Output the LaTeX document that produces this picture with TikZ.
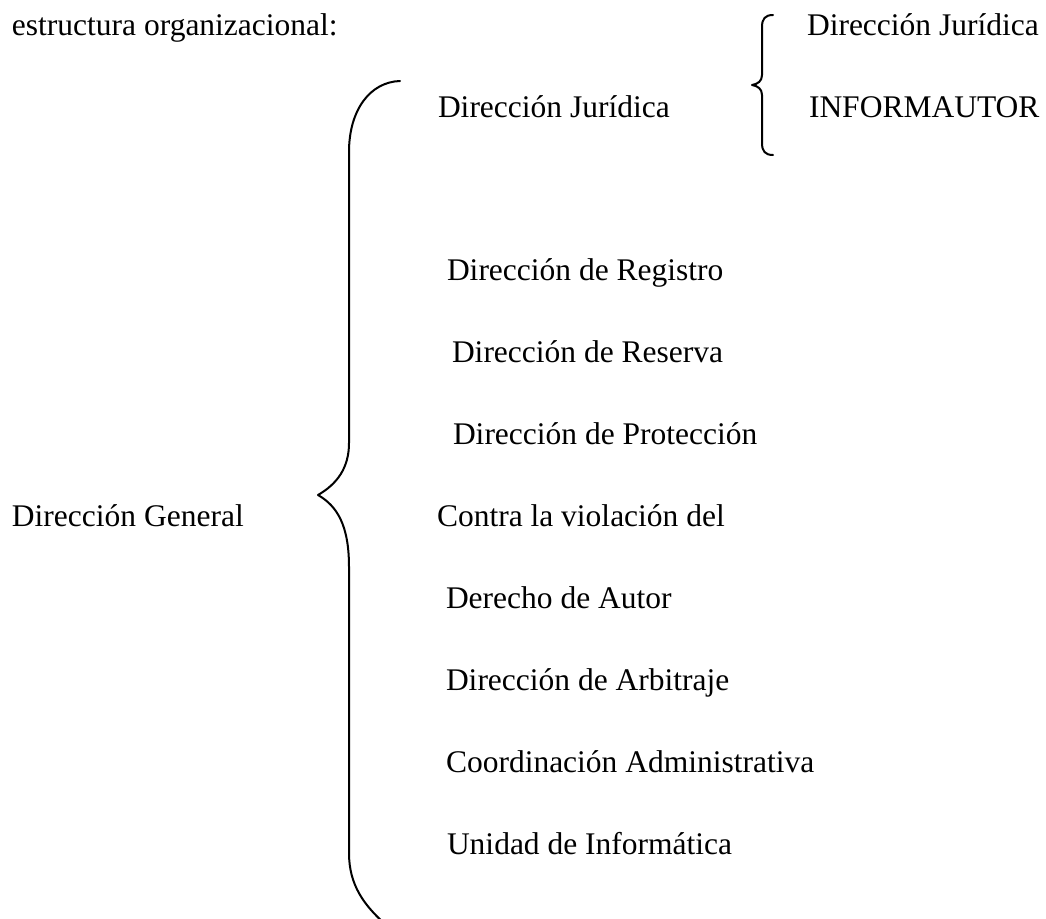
\documentclass[tikz,border=0pt]{standalone}
\usepackage{fontspec}
\setmainfont{Liberation Serif}
\begin{document}
\begin{tikzpicture}[x=1pt,y=-1pt,
  lbl/.style={anchor=base west,inner sep=0pt,outer sep=0pt,font=\fontsize{31.5}{36}\selectfont},
  brace/.style={line width=2pt,line cap=round,line join=round}]
\useasboundingbox (0,0) rectangle (1046,918);
\fill[white] (0,0) rectangle (1046,918);
% texts
\node[lbl] (title) at (12,35) {estructura organizacional:};
\node[lbl] (djtop) at (807,35) {Dirección Jurídica};
\node[lbl] (info) at (809,117) {INFORMAUTOR};
\node[lbl] (dj) at (438,117) {Dirección Jurídica};
\node[lbl] (reg) at (447,280) {Dirección de Registro};
\node[lbl] (res) at (452,362) {Dirección de Reserva};
\node[lbl] (pro) at (453,444) {Dirección de Protección};
\node[lbl] (con) at (437,526) {Contra la violación del};
\node[lbl] (der) at (446,608) {Derecho de Autor};
\node[lbl] (arb) at (446,690) {Dirección de Arbitraje};
\node[lbl] (coo) at (446,772) {Coordinación Administrativa};
\node[lbl] (uni) at (447,854) {Unidad de Informática};
\node[lbl] (gen) at (12,526) {Dirección General};
% big brace
\begin{scope}
\clip (0,0) rectangle (1046,918);
\draw[brace] (400,81) .. controls (370,82) and (349,110) .. (349,152)
  -- (349,443) .. controls (349,468) and (337,484) .. (318,495)
  .. controls (337,506) and (349,525) .. (349,567)
  -- (349,853) .. controls (349,885) and (364,905) .. (385,924);
\end{scope}
% small brace
\draw[brace] (773,15) .. controls (765,15) and (762,19) .. (762,27)
  -- (762,75) .. controls (762,81) and (758,84) .. (752,85)
  .. controls (758,86) and (762,89) .. (762,95)
  -- (762,143) .. controls (762,151) and (765,155) .. (773,155);
\end{tikzpicture}
\end{document}
